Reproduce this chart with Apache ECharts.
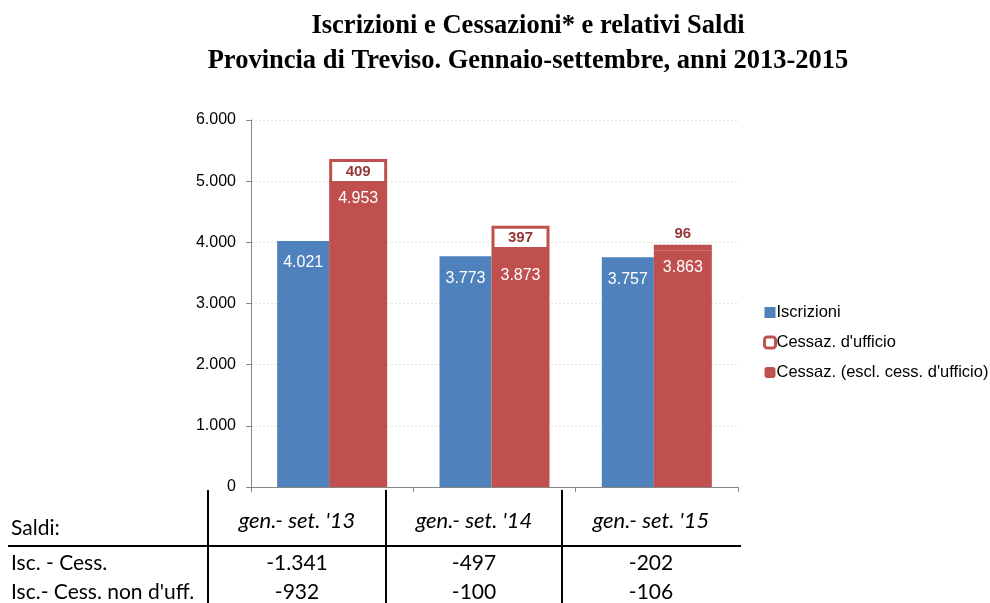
<!DOCTYPE html>
<html>
<head>
<meta charset="utf-8">
<script src="https://cdn.jsdelivr.net/npm/echarts@6/dist/echarts.min.js"></script>
<style>
  html, body { margin: 0; padding: 0; background: #fff; }
  #chart { width: 990px; height: 603px; }
</style>
</head>
<body>
<div id="chart"></div>
<script>
// dati
const categories = ["gen.- set. '13", "gen.- set. '14", "gen.- set. '15"]
const iscrizioni = [4021, 3773, 3757]
const cessEscl = [4953, 3873, 3863]
const cessUfficio = [409, 397, 96]
const saldoLabels = ['Isc. - Cess.', "Isc.- Cess. non d'uff."]
const saldoTot = [-1341, -497, -202]
const saldoNonUff = [-932, -100, -106]

const fmt = (v) => {
  const s = String(Math.abs(v)).replace(/\B(?=(\d{3})+(?!\d))/g, '.')
  return (v < 0 ? '-' : '') + s
}

const BLUE = '#4F81BD'
const RED = '#C0504D'
const tableFont = 'Lato, "Open Sans", sans-serif'

const chart = echarts.init(document.getElementById('chart'))

// tabella dei saldi sotto al grafico
const colX = [297, 474, 651]
const tableGraphics = []
tableGraphics.push({
  type: 'text', x: 11, y: 528,
  style: { text: 'Saldi:', font: '21px ' + tableFont, fill: '#000', verticalAlign: 'middle' }
})
categories.forEach((c, i) => {
  tableGraphics.push({
    type: 'text', x: colX[i], y: 521,
    style: { text: c, font: 'italic 22px ' + tableFont, fill: '#000', align: 'center', verticalAlign: 'middle' }
  })
})
const rows = [saldoTot, saldoNonUff]
const rowY = [563, 592]
rows.forEach((r, j) => {
  tableGraphics.push({
    type: 'text', x: 11, y: rowY[j],
    style: { text: saldoLabels[j], font: '21px ' + tableFont, fill: '#000', verticalAlign: 'middle' }
  })
  r.forEach((v, i) => {
    tableGraphics.push({
      type: 'text', x: colX[i], y: rowY[j],
      style: { text: fmt(v), font: '21px ' + tableFont, fill: '#000', align: 'center', verticalAlign: 'middle' }
    })
  })
})
tableGraphics.push({
  type: 'line', shape: { x1: 8, y1: 546, x2: 741, y2: 546 },
  style: { stroke: '#000', lineWidth: 2 }
})
;[208, 386, 562].forEach((x) => {
  tableGraphics.push({
    type: 'line', shape: { x1: x, y1: 490, x2: x, y2: 603 },
    style: { stroke: '#000', lineWidth: 2 }
  })
})

const redLabelDist = [7, 17, 9]

chart.setOption({
  animation: false,
  backgroundColor: '#fff',
  textStyle: { fontFamily: '"Liberation Sans", Arial, sans-serif' },
  graphic: [
    {
      type: 'text', x: 528, y: 26,
      style: {
        text: 'Iscrizioni e Cessazioni* e relativi Saldi',
        font: 'bold 26.5px "Liberation Serif", "Times New Roman", serif',
        fill: '#000', align: 'center', verticalAlign: 'middle'
      }
    },
    {
      type: 'text', x: 528, y: 61,
      style: {
        text: 'Provincia di Treviso. Gennaio-settembre, anni 2013-2015',
        font: 'bold 26.5px "Liberation Serif", "Times New Roman", serif',
        fill: '#000', align: 'center', verticalAlign: 'middle'
      }
    },
    ...tableGraphics
  ],
  legend: {
    orient: 'vertical',
    left: 758,
    top: 299,
    itemGap: 13,
    itemWidth: 11,
    itemHeight: 11,
    textStyle: { fontSize: 16.5, color: '#000', padding: [0, 0, 0, -4] },
    data: [
      { name: 'Iscrizioni', icon: 'path://M1.5,1.5 L9.5,1.5 L9.5,9.5 L1.5,9.5 Z', itemStyle: { color: BLUE, borderWidth: 0 } },
      { name: "Cessaz. d'ufficio", icon: 'roundRect', itemStyle: { color: '#fff', borderColor: RED, borderWidth: 3 } },
      { name: "Cessaz. (escl. cess. d'ufficio)", icon: 'roundRect', itemStyle: { color: RED, borderWidth: 0 } }
    ]
  },
  grid: { left: 251, right: 252, top: 120, bottom: 116 },
  xAxis: {
    type: 'category',
    data: categories,
    axisLine: { lineStyle: { color: '#868686' } },
    axisTick: { show: true, length: 5, lineStyle: { color: '#868686' } },
    axisLabel: { show: false }
  },
  yAxis: {
    type: 'value',
    min: 0,
    max: 6000,
    interval: 1000,
    axisLine: { show: true, lineStyle: { color: '#868686' } },
    axisTick: { show: true, length: 5, lineStyle: { color: '#868686' } },
    axisLabel: { color: '#000', fontSize: 16, margin: 15, formatter: (v) => fmt(v) },
    splitLine: { lineStyle: { color: '#e4e4d4', type: [2, 2] } }
  },
  series: [
    {
      name: 'Iscrizioni',
      type: 'bar',
      barWidth: 52,
      barGap: '0%',
      data: iscrizioni,
      itemStyle: { color: BLUE },
      label: {
        show: true, position: 'insideTop', distance: 14,
        color: '#fff', fontSize: 16, formatter: (p) => fmt(p.value)
      }
    },
    {
      name: "Cessaz. (escl. cess. d'ufficio)",
      type: 'bar',
      stack: 'cess',
      barWidth: 58,
      data: cessEscl.map((v, i) => ({
        value: v,
        label: { distance: redLabelDist[i] }
      })),
      itemStyle: { color: RED },
      label: {
        show: true, position: 'insideTop',
        color: '#fff', fontSize: 16, formatter: (p) => fmt(p.value)
      }
    },
    {
      name: "Cessaz. d'ufficio",
      type: 'bar',
      stack: 'cess',
      barWidth: 58,
      data: cessUfficio.map((v) => ({
        value: v,
        label: { position: v < 150 ? 'top' : 'inside', distance: 3 }
      })),
      itemStyle: { color: '#fff', borderColor: RED, borderWidth: 3 },
      label: {
        show: true, color: '#953735', fontSize: 15, fontWeight: 'bold',
        formatter: (p) => fmt(p.value)
      }
    }
  ]
})
</script>
</body>
</html>
